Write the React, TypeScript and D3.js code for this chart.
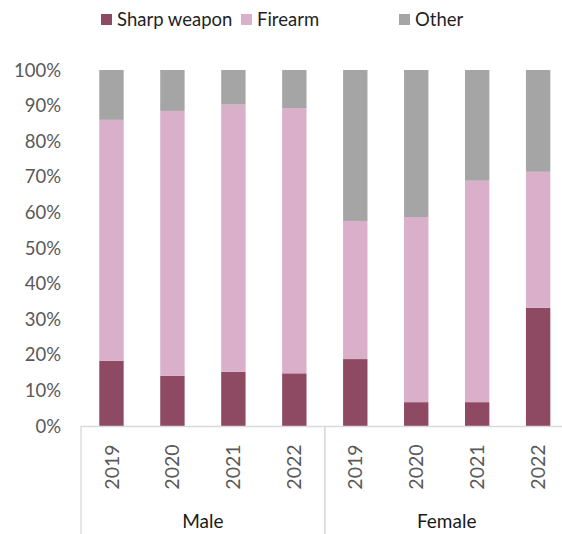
import React from "react";
import * as d3 from "d3";

const groups = ["Male", "Female"];
const years = ["2019", "2020", "2021", "2022"];
const seriesNames = ["Sharp weapon", "Firearm", "Other"];
const sharpWeapon = [18.3, 14.1, 15.2, 14.8, 18.8, 6.7, 6.7, 33.2];
const firearm = [67.7, 74.4, 75.1, 74.5, 38.8, 52.0, 62.2, 38.2];
const other = [14.0, 11.5, 9.7, 10.7, 42.4, 41.3, 31.1, 28.6];
const yTicks = [0, 10, 20, 30, 40, 50, 60, 70, 80, 90, 100];

const colors = ["#8E4A63", "#D9AFC9", "#A5A5A5"];
const W = 562;
const H = 534;
const FONT = "Lato, 'Open Sans', sans-serif";

export default function App() {
  const cats = groups.flatMap((g) => years.map((y) => `${g}-${y}`));
  const x = d3
    .scaleBand<string>()
    .domain(cats)
    .range([81, 568.6])
    .paddingInner(0.6)
    .paddingOuter(0.3);
  const y = d3.scaleLinear().domain([0, 100]).range([426, 70]);

  const rows = cats.map((c, i) => ({
    cat: c,
    "Sharp weapon": sharpWeapon[i],
    Firearm: firearm[i],
    Other: other[i],
  }));
  const stack = d3.stack<any>().keys(seriesNames);
  const layers = stack(rows);

  const groupEdges = groups.map((g, gi) => {
    const first = x(`${g}-${years[0]}`)! - (x.step() * x.paddingInner()) / 2;
    const last =
      x(`${g}-${years[years.length - 1]}`)! +
      x.bandwidth() +
      (x.step() * x.paddingInner()) / 2;
    return { g, first, last, gi };
  });

  const legendX = [101, 241, 399];

  return (
    <svg
      width={W}
      height={H}
      style={{ position: "absolute", left: 0, top: 0, background: "#fff" }}
      fontFamily={FONT}
    >
      {/* legend */}
      {seriesNames.map((s, i) => (
        <g key={s}>
          <rect x={legendX[i]} y={14} width={11} height={11} fill={colors[i]} />
          <text x={legendX[i] + 16} y={26} fontSize={18.5} fill="#1f1f1f">
            {s}
          </text>
        </g>
      ))}

      {/* y ticks */}
      {yTicks.map((t) => (
        <text
          key={t}
          x={61}
          y={y(t)}
          dy="0.36em"
          textAnchor="end"
          fontSize={18.5}
          fill="#595959"
        >
          {t}%
        </text>
      ))}

      {/* bars */}
      {layers.map((layer, li) =>
        layer.map((d, i) => (
          <rect
            key={`${li}-${i}`}
            x={x(cats[i])}
            y={y(d[1])}
            width={x.bandwidth()}
            height={y(d[0]) - y(d[1])}
            fill={colors[li]}
          />
        ))
      )}

      {/* axis line */}
      <line x1={81} x2={W} y1={426.5} y2={426.5} stroke="#D9D9D9" strokeWidth={1.3} />
      {groupEdges.map((e) => (
        <g key={e.g}>
          <line x1={e.first} x2={e.first} y1={426} y2={H} stroke="#D9D9D9" strokeWidth={1.3} />
          <line x1={e.last} x2={e.last} y1={426} y2={H} stroke="#D9D9D9" strokeWidth={1.3} />
          <text
            x={(e.first + e.last) / 2}
            y={528}
            textAnchor="middle"
            fontSize={19}
            fill="#1a1a1a"
          >
            {e.g}
          </text>
        </g>
      ))}

      {/* year labels */}
      {cats.map((c, i) => {
        const cx = x(c)! + x.bandwidth() / 2;
        const cy = 467;
        return (
          <text
            key={c}
            transform={`translate(${cx},${cy}) rotate(-90)`}
            textAnchor="middle"
            dy="0.36em"
            fontSize={19.5}
            fill="#595959"
          >
            {years[i % years.length]}
          </text>
        );
      })}
    </svg>
  );
}
